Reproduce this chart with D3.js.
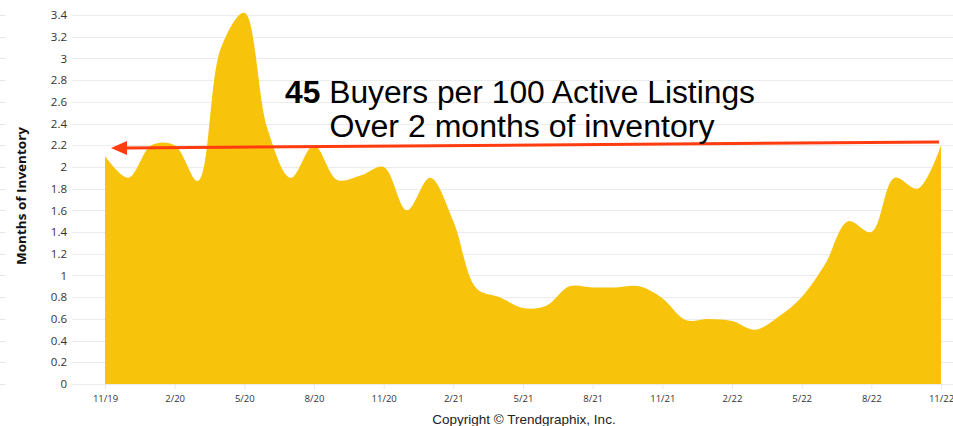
<!DOCTYPE html>
<html>
<head>
<meta charset="utf-8">
<script src="https://cdn.jsdelivr.net/npm/d3@7"></script>
<style>
  html, body { margin: 0; padding: 0; background: #fff; }
  svg { display: block; }
</style>
</head>
<body>
<svg id="chart" width="953" height="426"></svg>
<script>
// ---- data ----
const months = ["11/19","12/19","1/20","2/20","3/20","4/20","5/20","6/20","7/20","8/20","9/20","10/20",
  "11/20","12/20","1/21","2/21","3/21","4/21","5/21","6/21","7/21","8/21","9/21","10/21",
  "11/21","12/21","1/22","2/22","3/22","4/22","5/22","6/22","7/22","8/22","9/22","10/22","11/22"];
const monthsOfInventory = [2.1,1.9,2.2,2.2,1.87,3.1,3.42,2.35,1.9,2.2,1.88,1.92,
  2.0,1.6,1.9,1.5,0.88,0.8,0.7,0.72,0.9,0.89,0.89,0.9,
  0.79,0.59,0.6,0.58,0.5,0.62,0.8,1.1,1.5,1.4,1.9,1.8,2.2];
const xTickLabels = ["11/19","2/20","5/20","8/20","11/20","2/21","5/21","8/21","11/21","2/22","5/22","8/22","11/22"];
const yTicks = [0,0.2,0.4,0.6,0.8,1,1.2,1.4,1.6,1.8,2,2.2,2.4,2.6,2.8,3,3.2,3.4];
const yTitle = "Months of Inventory";
const annoLine1Bold = "45";
const annoLine1 = " Buyers per 100 Active Listings";
const annoLine2 = "Over 2 months of inventory";
const arrowFrom = { month: "11/22", value: 2.23 };
const arrowTo = { month: "11/19", value: 2.175 };
const copyright = "Copyright \u00A9 Trendgraphix, Inc.";

// ---- drawing ----
const svg = d3.select("#chart");
const data = months.map((m, i) => ({ m, i, v: monthsOfInventory[i] }));

const x = d3.scaleLinear().domain([0, months.length - 1]).range([105, 941]);
const y = d3.scaleLinear().domain([0, 3.4]).range([384, 15]);

// gridlines
const grid = svg.append("g");
grid.selectAll("line.g").data(yTicks).join("line")
  .attr("x1", 72).attr("x2", 953)
  .attr("y1", d => Math.round(y(d)) + 0.5).attr("y2", d => Math.round(y(d)) + 0.5)
  .attr("stroke", "#ebebeb").attr("stroke-width", 1);
// cut-off gridline stubs at far left
grid.selectAll("line.s").data(yTicks).join("line")
  .attr("x1", 0).attr("x2", 5)
  .attr("y1", d => Math.round(y(d)) + 0.5).attr("y2", d => Math.round(y(d)) + 0.5)
  .attr("stroke", "#e6e6e6").attr("stroke-width", 1);

// area
const area = d3.area()
  .x(d => x(d.i))
  .y0(y(0))
  .y1(d => y(d.v))
  .curve(d3.curveCatmullRom.alpha(0.5));
svg.append("path").datum(data)
  .attr("d", area)
  .attr("fill", "#f7c40b");

// y axis
const yAxis = d3.axisLeft(y).tickValues(yTicks).tickSize(0).tickPadding(0)
  .tickFormat(d => d3.format("")(+d.toFixed(1)));
const yg = svg.append("g").attr("transform", "translate(67,0)").call(yAxis);
yg.select(".domain").remove();
yg.selectAll("text")
  .attr("font-family", "'Open Sans', sans-serif")
  .attr("font-size", 11.5)
  .attr("fill", "#333");

// x axis
const xIdx = xTickLabels.map(l => months.indexOf(l));
const xAxis = d3.axisBottom(x).tickValues(xIdx).tickSize(5).tickPadding(6)
  .tickFormat(d => months[d]);
const xg = svg.append("g").attr("transform", `translate(0,${y(0)})`).call(xAxis);
xg.select(".domain").remove();
xg.selectAll("line").attr("stroke", "#e6e6e6");
xg.selectAll("text")
  .attr("font-family", "'Open Sans', sans-serif")
  .attr("font-size", 9.5)
  .attr("fill", "#333");

// y title
svg.append("text")
  .attr("transform", "translate(26,196) rotate(-90)")
  .attr("text-anchor", "middle")
  .attr("font-family", "'Open Sans', sans-serif")
  .attr("font-weight", "bold")
  .attr("font-size", 13)
  .attr("textLength", 138)
  .attr("lengthAdjust", "spacingAndGlyphs")
  .attr("fill", "#111")
  .text(yTitle);

// arrow
const x1 = x(months.indexOf(arrowFrom.month)) - 2, y1 = y(arrowFrom.value);
const x2 = x(months.indexOf(arrowTo.month)) + 6, y2 = y(arrowTo.value);
const headLen = 16, headHalf = 7;
svg.append("line")
  .attr("x1", x1).attr("y1", y1).attr("x2", x2 + headLen - 2).attr("y2", y2)
  .attr("stroke", "#ff3c0f").attr("stroke-width", 3);
svg.append("path")
  .attr("d", `M${x2},${y2} L${x2 + headLen},${y2 - headHalf} L${x2 + headLen},${y2 + headHalf} Z`)
  .attr("fill", "#ff3c0f");

// annotation
const t1 = svg.append("text")
  .attr("x", 520).attr("y", 103)
  .attr("text-anchor", "middle")
  .attr("font-family", "'Liberation Sans', Arial, sans-serif")
  .attr("font-size", 31)
  .attr("textLength", 470)
  .attr("lengthAdjust", "spacingAndGlyphs")
  .attr("fill", "#000");
t1.append("tspan").attr("font-weight", "bold").text(annoLine1Bold);
t1.append("tspan").text(annoLine1);
svg.append("text")
  .attr("x", 522).attr("y", 137)
  .attr("text-anchor", "middle")
  .attr("font-family", "'Liberation Sans', Arial, sans-serif")
  .attr("font-size", 31)
  .attr("textLength", 385)
  .attr("lengthAdjust", "spacingAndGlyphs")
  .attr("fill", "#000")
  .text(annoLine2);

// copyright
svg.append("text")
  .attr("x", 524).attr("y", 424)
  .attr("text-anchor", "middle")
  .attr("font-family", "'Liberation Sans', Arial, sans-serif")
  .attr("font-size", 13.5)
  .attr("fill", "#222")
  .text(copyright);
</script>
</body>
</html>
